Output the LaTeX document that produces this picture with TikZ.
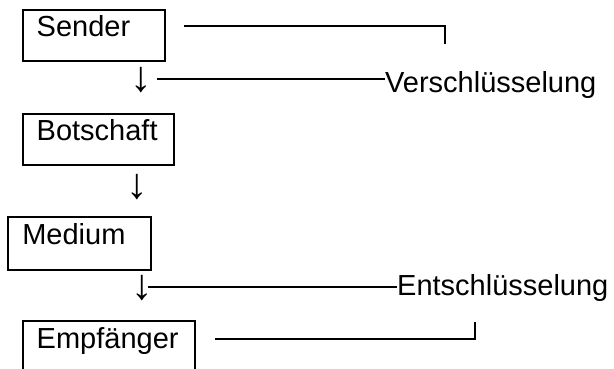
\documentclass[tikz,border=0pt]{standalone}
\usepackage{fontspec}
\setmainfont{Liberation Sans}
\begin{document}
\begin{tikzpicture}[x=1pt, y=-1pt,
% common options for the boxes:
msgbox/.style = {draw, line width=2pt, anchor=north west, align=left,
            inner xsep=14pt, inner ysep=0pt, text height=27pt, text depth=24pt,
            font=\fontsize{29}{34}\selectfont},
% common options for the free texts:
word/.style = {inner sep=0, font=\fontsize{29}{34}\selectfont},
% common options for the arrows:
downarr/.style = {inner sep=0, font=\fontsize{43}{50}\selectfont},
% common options for the lines:
dashline/.style = {line width=1.5pt}]
\useasboundingbox (0,0) rectangle (614,369);
\node[msgbox, text width=114.3pt] (sender) at (21.7,9) {Sender};
\node[msgbox, text width=123.3pt] (botschaft) at (21.7,112.7) {Botschaft};
\node[msgbox, text width=114.7pt, text depth=26pt] (medium) at (7.3,216) {Medium};
\node[msgbox, text width=143.8pt] (empfaenger) at (21.7,320) {Empfänger};
\node[downarr] (arr1) at (141.7,80.5) {↓};
\node[downarr] (arr2) at (137.7,187) {↓};
\node[downarr] (arr3) at (142,288.5) {↓};
\node[word, anchor=base west] (verschl) at (385,93) {Verschlüsselung};
\node[word, anchor=base west] (entschl) at (397,295) {Entschlüsselung};
\draw[dashline] ([xshift=18pt, yshift=11pt]sender.base east) -- ++(261,0) -- ++(0,18);
\draw[dashline] ([xshift=15pt, yshift=1.5pt]arr1.center) -- ([yshift=1.5pt]arr1.center -| verschl.west);
\draw[dashline] ([xshift=6pt, yshift=1.5pt]arr3.center) -- ([yshift=1.5pt]arr3.center -| entschl.west);
\draw[dashline] ([xshift=19.5pt, yshift=9pt]empfaenger.base east) -- ++(260,0) -- ++(0,-17);
\end{tikzpicture}
\end{document}
